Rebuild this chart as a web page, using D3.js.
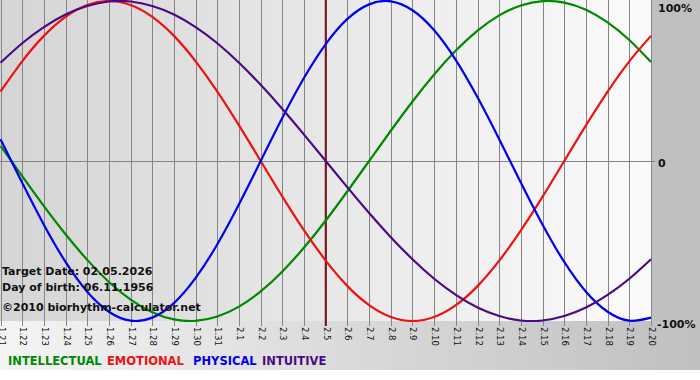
<!DOCTYPE html>
<html>
<head>
<meta charset="utf-8">
<script src="https://cdn.jsdelivr.net/npm/d3@7"></script>
<style>
  html, body { margin: 0; padding: 0; background: #ffffff; }
  svg { display: block; }
</style>
</head>
<body>
<div id="chart"></div>
<script>
// ---- data ----
const dates = ["1.21","1.22","1.23","1.24","1.25","1.26","1.27","1.28","1.29","1.30","1.31",
  "2.1","2.2","2.3","2.4","2.5","2.6","2.7","2.8","2.9","2.10","2.11","2.12","2.13","2.14",
  "2.15","2.16","2.17","2.18","2.19","2.20"];
const intellectual = [0.095,-0.095,-0.282,-0.458,-0.618,-0.756,-0.866,-0.945,-0.990,-0.999,-0.972,
  -0.910,-0.815,-0.690,-0.541,-0.372,-0.189,0,0.189,0.372,0.541,0.690,0.815,0.910,0.972,
  0.999,0.990,0.945,0.866,0.756,0.618];
const emotional = [0.434,0.623,0.782,0.901,0.975,1.000,0.975,0.901,0.782,0.623,0.434,
  0.223,0,-0.223,-0.434,-0.623,-0.782,-0.901,-0.975,-1.000,-0.975,-0.901,-0.782,-0.623,-0.434,
  -0.223,0,0.223,0.434,0.623,0.782];
const physical = [0.136,-0.136,-0.398,-0.631,-0.817,-0.942,-0.998,-0.979,-0.888,-0.731,-0.520,
  -0.270,0,0.270,0.520,0.731,0.888,0.979,0.998,0.942,0.817,0.631,0.398,0.136,-0.136,
  -0.398,-0.631,-0.817,-0.942,-0.998,-0.979];
const intuitive = [0.614,0.736,0.837,0.916,0.969,0.997,0.997,0.969,0.916,0.837,0.736,
  0.614,0.476,0.325,0.165,0,-0.165,-0.325,-0.476,-0.614,-0.736,-0.837,-0.916,-0.969,-0.997,
  -0.997,-0.969,-0.916,-0.837,-0.736,-0.614];
const targetDate = "2.5";
const yTicks = [1, 0, -1];
const yTickLabels = ["100%", "0", "-100%"];
const seriesNames = ["INTELLECTUAL", "EMOTIONAL", "PHYSICAL", "INTUITIVE"];
const infoLines = ["Target Date: 02.05.2026", "Day of birth: 06.11.1956", "\u00A92010 biorhythm-calculator.net"];

// ---- layout ----
const W = 700, H = 380;
const plotL = 0, plotR = 651, plotT = 1, plotB = 321;
const chartBottom = 370;
const colors = { INTELLECTUAL: "#008800", EMOTIONAL: "#ee1111", PHYSICAL: "#0000ee", INTUITIVE: "#4b0a84" };
const seriesData = { INTELLECTUAL: intellectual, EMOTIONAL: emotional, PHYSICAL: physical, INTUITIVE: intuitive };
const legendX = [8, 107, 193, 262];

const svg = d3.select("#chart").append("svg").attr("width", W).attr("height", H);
const defs = svg.append("defs");
const gPlot = defs.append("linearGradient").attr("id", "plotBg").attr("x1", "0").attr("x2", "1").attr("y1", "0").attr("y2", "0");
gPlot.append("stop").attr("offset", "0%").attr("stop-color", "#d5d5d5");
gPlot.append("stop").attr("offset", "100%").attr("stop-color", "#fbfbfb");
const gBot = defs.append("linearGradient").attr("id", "botBg").attr("x1", "0").attr("x2", "1").attr("y1", "0").attr("y2", "0");
gBot.append("stop").attr("offset", "0%").attr("stop-color", "#f4f4f4");
gBot.append("stop").attr("offset", "100%").attr("stop-color", "#c0c0c0");
defs.append("clipPath").attr("id", "plotClip").append("rect")
  .attr("x", plotL).attr("y", 0).attr("width", plotR - plotL + 1).attr("height", plotB + 1);

// backgrounds
svg.append("rect").attr("x", 0).attr("y", 0).attr("width", W).attr("height", chartBottom).attr("fill", "url(#botBg)");
svg.append("rect").attr("x", plotR).attr("y", 0).attr("width", W - plotR).attr("height", plotB).attr("fill", "#c0c0c0");
svg.append("rect").attr("x", plotL).attr("y", 0).attr("width", plotR - plotL).attr("height", plotB).attr("fill", "url(#plotBg)");

const x = d3.scalePoint().domain(dates).range([plotL + 0.5, plotR]);
const y = d3.scaleLinear().domain([-1, 1]).range([plotB, plotT]);

// vertical grid
svg.append("g").selectAll("line").data(dates).join("line")
  .attr("x1", d => Math.round(x(d)) + 0.5).attr("x2", d => Math.round(x(d)) + 0.5)
  .attr("y1", 0).attr("y2", plotB + 5)
  .attr("stroke", "#858585").attr("stroke-width", 1);

// zero line
svg.append("line").attr("x1", plotL).attr("x2", plotR + 4)
  .attr("y1", Math.round(y(0)) + 0.5).attr("y2", Math.round(y(0)) + 0.5)
  .attr("stroke", "#858585").attr("stroke-width", 1);

// target date marker
svg.append("line").attr("x1", x(targetDate)).attr("x2", x(targetDate))
  .attr("y1", 0).attr("y2", plotB + 5)
  .attr("stroke", "#7a1515").attr("stroke-width", 2);

// x axis labels (rotated)
svg.append("g").selectAll("text").data(dates).join("text")
  .attr("transform", d => `translate(${Math.round(x(d)) + 0.5},${plotB + 6}) rotate(90)`)
  .attr("dy", "0.35em")
  .attr("text-anchor", "start")
  .attr("font-family", "DejaVu Sans, Verdana, sans-serif")
  .attr("font-size", "8.5px")
  .attr("fill", "#111")
  .text(d => d);

// y labels
svg.append("g").selectAll("text").data(yTicks).join("text")
  .attr("x", d => d < 0 ? 657 : 658)
  .attr("y", d => d === 1 ? 12 : (d === 0 ? 167 : 328))
  .attr("font-family", "DejaVu Sans, Verdana, sans-serif")
  .attr("font-weight", "bold")
  .attr("font-size", "11px")
  .attr("fill", "#111")
  .text((d, i) => yTickLabels[i]);

// curves
const line = d3.line().x((d, i) => x(dates[i])).y(d => y(d)).curve(d3.curveNatural);
const gLines = svg.append("g").attr("clip-path", "url(#plotClip)");
seriesNames.forEach(name => {
  gLines.append("path").datum(seriesData[name])
    .attr("d", line)
    .attr("fill", "none")
    .attr("stroke", colors[name])
    .attr("stroke-width", 2.2);
});

// info text
svg.append("g").selectAll("text").data(infoLines).join("text")
  .attr("x", 2)
  .attr("y", (d, i) => [275, 291, 311][i])
  .attr("font-family", "DejaVu Sans, Verdana, sans-serif")
  .attr("font-weight", "bold")
  .attr("font-size", "11px")
  .attr("fill", "#111")
  .text(d => d);

// legend
svg.append("g").selectAll("text").data(seriesNames).join("text")
  .attr("x", (d, i) => legendX[i]).attr("y", 365)
  .attr("font-family", "DejaVu Sans, Verdana, sans-serif")
  .attr("font-weight", "bold")
  .attr("font-size", "11.5px")
  .attr("fill", d => colors[d])
  .text(d => d);
</script>
</body>
</html>
